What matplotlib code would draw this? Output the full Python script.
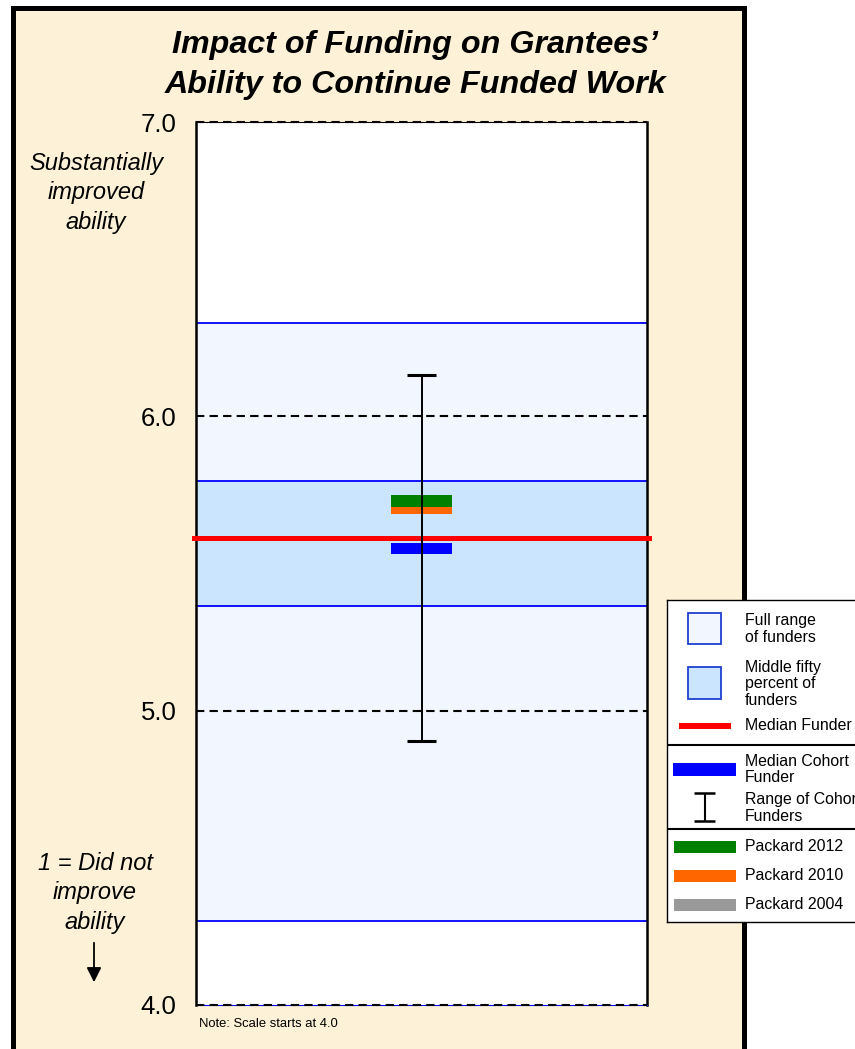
import matplotlib
matplotlib.use("Agg")
import matplotlib.pyplot as plt
from matplotlib.patches import Rectangle, FancyArrowPatch

plt.rcParams["font.family"] = ["Liberation Sans", "DejaVu Sans"]

# data
y_ticks = [4.0, 5.0, 6.0, 7.0]
y_labels = ["4.0", "5.0", "6.0", "7.0"]
full_range = (4.285, 6.317)
middle_fifty = (5.355, 5.78)
median_funder = 5.586
cohort_range = (4.897, 6.14)
median_cohort = 5.55
packard_years = ["Packard 2012", "Packard 2010"]
packard_values = [5.712, 5.688]
packard_colors = ["#008000", "#FF6600"]
legend_labels = [
    "Full range\nof funders",
    "Middle fifty\npercent of\nfunders",
    "Median Funder",
    "Median Cohort\nFunder",
    "Range of Cohort\nFunders",
    "Packard 2012",
    "Packard 2010",
    "Packard 2004",
]

CREAM = "#FDF2D8"
FULL_FILL = "#F2F6FF"
MID_FILL = "#CCE5FF"
BAND_EDGE = "#0000FF"

W, H = 855, 1049
fig = plt.figure(figsize=(W / 100, H / 100), dpi=100)
fig.patch.set_facecolor("white")


def fx(x):
    return x / W


def fy(y):
    return 1 - y / H


# cream frame with thick black border
frame = Rectangle((fx(12.5), -0.02), fx(743.5 - 12.5), fy(7.5) + 0.02,
                  transform=fig.transFigure, facecolor=CREAM,
                  edgecolor="black", linewidth=3.6, zorder=0)
fig.add_artist(frame)

ax = fig.add_axes([fx(196), fy(1005), fx(647 - 196), (1005 - 122) / H])
ax.set_zorder(2)
ax.set_facecolor("white")
ax.set_xlim(0, 1)
ax.set_ylim(4, 7)

# bands
ax.axhspan(*full_range, facecolor=FULL_FILL, edgecolor="none", zorder=1)
ax.axhspan(*middle_fifty, facecolor=MID_FILL, edgecolor="none", zorder=1)
for v in list(full_range) + list(middle_fifty):
    ax.axhline(v, color=BAND_EDGE, lw=1.3, zorder=2)

# dashed grid lines
for v in y_ticks:
    ax.axhline(v, color="black", lw=1.5, dashes=(4, 2.5), zorder=3,
               clip_on=False)

# median funder line
ax.axhline(median_funder, xmin=-0.005, xmax=1.005, color="#FF0000", lw=3.6,
           zorder=4, clip_on=False)

# Packard bars (2010 drawn first, 2012 on top)
bar_h = 0.041
for name, val, col in list(zip(packard_years, packard_values, packard_colors))[::-1]:
    ax.barh(val, 0.134, left=0.433, height=bar_h, color=col, zorder=5)
ax.barh(median_cohort, 0.134, left=0.433, height=0.038, color="#0000FF", zorder=5)

# cohort range
ax.vlines(0.5, cohort_range[0], cohort_range[1], color="black", lw=1.4, zorder=6)
ax.hlines(cohort_range, 0.468, 0.532, color="black", lw=2.2, zorder=6)

ax.set_yticks(y_ticks)
ax.set_yticklabels(y_labels)
ax.set_xticks([])
ax.tick_params(axis="y", length=0, pad=14, labelsize=18.5)
for s in ["left", "right"]:
    ax.spines[s].set_linewidth(1.8)
    ax.spines[s].set_color("black")
ax.spines["top"].set_linewidth(0.8)
ax.spines["bottom"].set_linewidth(0.8)
ax.spines["bottom"].set_color(BAND_EDGE)

# title
fig.text(fx(415), fy(65), "Impact of Funding on Grantees’\nAbility to Continue Funded Work",
         ha="center", va="center", fontsize=23.2, fontweight="bold",
         fontstyle="italic", linespacing=1.42)

# scale annotations
fig.text(fx(96), fy(193), "Substantially\nimproved\nability", ha="center",
         va="center", fontsize=17, fontstyle="italic", linespacing=1.38)
fig.text(fx(95), fy(893), "1 = Did not\nimprove\nability", ha="center",
         va="center", fontsize=17, fontstyle="italic", linespacing=1.38)
arrow = FancyArrowPatch((fx(94), fy(940)), (fx(94), fy(985)),
                        transform=fig.transFigure, arrowstyle="-|>",
                        color="black", lw=1.3, mutation_scale=22)
fig.add_artist(arrow)
fig.text(fx(199), fy(1024), "Note: Scale starts at 4.0", ha="left",
         va="center", fontsize=9.4)

# legend box (pixel coordinates, runs off the right edge)
lg = fig.add_axes([fx(667), fy(922), fx(900 - 667), (922 - 600) / H])
lg.set_zorder(3)
lg.set_xlim(667, 900)
lg.set_ylim(922, 600)
lg.set_xticks([])
lg.set_yticks([])
lg.set_facecolor("white")
for s in lg.spines.values():
    s.set_linewidth(1.0)
lg.add_patch(Rectangle((688, 613), 33, 31, facecolor=FULL_FILL,
                       edgecolor="#1E40D0", lw=1.3))
lg.add_patch(Rectangle((688, 667), 33, 32, facecolor=MID_FILL,
                       edgecolor="#1E40D0", lw=1.3))
lg.plot([679, 731], [726, 726], color="#FF0000", lw=4.3, solid_capstyle="butt")
lg.hlines([745, 829], 667, 900, color="black", lw=1.5)
lg.add_patch(Rectangle((673, 763), 63, 13, facecolor="#0000FF", edgecolor="none"))
lg.vlines(704.5, 793, 821, color="black", lw=1.5)
lg.hlines([793, 821], 694, 715, color="black", lw=1.8)
for i, col in enumerate(packard_colors + ["#999999"]):
    lg.add_patch(Rectangle((674, 841 + 29 * i), 62, 12, facecolor=col,
                           edgecolor="none"))
text_y = [629, 684, 726, 769.5, 808, 847, 876, 905]
for lab, ty in zip(legend_labels, text_y):
    lg.text(745, ty, lab, ha="left", va="center", fontsize=11.4,
            linespacing=1.12)

fig.savefig("out.png", dpi=100)
